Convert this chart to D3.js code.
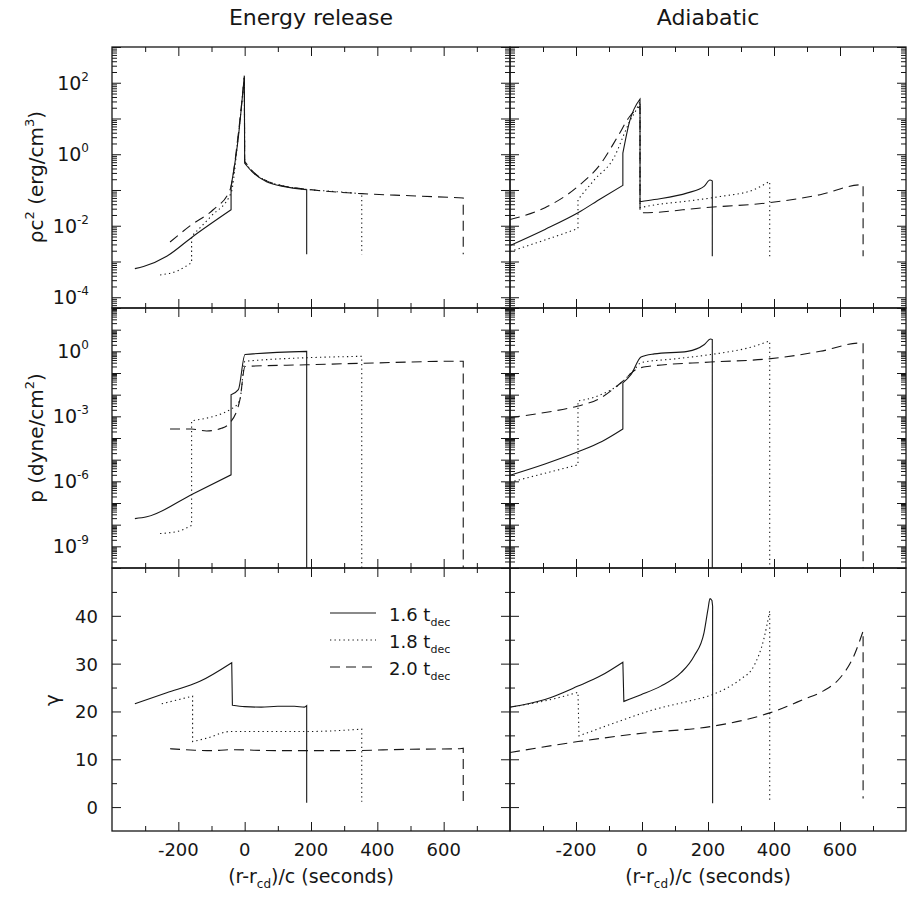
<!DOCTYPE html>
<html>
<head>
<meta charset="utf-8">
<script src="https://cdn.jsdelivr.net/npm/d3@7"></script>
<style>
  body { margin: 0; background: #fff; }
  svg { font-family: "DejaVu Sans", sans-serif; }
</style>
</head>
<body>
<div id="chart"></div>
<script>
// x values in seconds, y values
// rho c^2 (erg/cm^3), energy release
const rhoER16 = [[-331,6.3e-4],[-305,7.2e-4],[-235,1.4e-3],[-155,5.1e-3],[-41,2.8e-2],[-41,0.126],[-20,2.5],[-1,158],[0,0.56],[26,0.30],[66,0.17],[116,0.126],[187,0.102],[187,1.6e-3]];
const rhoER18 = [[-255,4.2e-4],[-200,5.6e-4],[-160,9.3e-4],[-160,5.1e-3],[-100,1.9e-2],[-41,8.3e-2],[-20,2.8],[-1,150],[0,0.6],[26,0.31],[66,0.18],[116,0.13],[187,0.104],[260,0.092],[353,0.079],[353,1.6e-3]];
const rhoER20 = [[-225,3.5e-3],[-160,1.07e-2],[-95,2.8e-2],[-44,0.102],[-20,3.2],[-1,140],[0,0.63],[26,0.32],[66,0.18],[116,0.13],[187,0.105],[353,0.079],[500,0.069],[659,0.06],[659,1.6e-3]];
// rho c^2, adiabatic
const rhoAD16 = [[-400,2.8e-3],[-294,7.9e-3],[-194,2.3e-2],[-124,5.8e-2],[-58,0.135],[-58,1.07],[-38,8.1],[-6,35],[-6,4.7e-2],[37,5.4e-2],[138,8.3e-2],[188,0.126],[206,0.19],[213,0.18],[213,1.4e-3]];
const rhoAD18 = [[-400,1.9e-3],[-294,4.0e-3],[-194,8.3e-3],[-194,5.4e-2],[-144,0.195],[-83,0.87],[-53,3.9],[-38,8.1],[-20,15.8],[-6,30],[-6,3.2e-2],[37,3.8e-2],[138,4.9e-2],[238,6.6e-2],[339,0.102],[384,0.17],[387,0.17],[387,1.4e-3]];
const rhoAD20 = [[-400,1.5e-2],[-294,3.2e-2],[-194,0.126],[-124,0.56],[-73,3.2],[-38,11.2],[-6,22],[-6,2.3e-2],[2,2.3e-2],[188,3.2e-2],[384,4.4e-2],[540,7.4e-2],[665,0.14],[670,0.14],[670,1.4e-3]];
// p (dyne/cm^2), energy release
const pER16 = [[-331,1.9e-8],[-295,2.3e-8],[-155,2.7e-7],[-41,2.0e-6],[-41,1.0e-2],[-19,1.7e-2],[1,0.71],[187,1.0],[187,1e-12]];
const pER18 = [[-255,3.9e-9],[-200,5.0e-9],[-160,9.3e-9],[-160,6.2e-4],[-34,2.5e-3],[-14,6.3e-3],[1,0.35],[353,0.59],[353,1e-12]];
const pER20 = [[-225,2.6e-4],[-160,2.6e-4],[-115,2.1e-4],[-70,2.8e-4],[-44,5.1e-4],[-14,6.3e-3],[1,0.2],[187,0.24],[353,0.28],[649,0.35],[659,0.35],[659,1e-12]];
// p, adiabatic
const pAD16 = [[-400,1.9e-6],[-294,6.3e-6],[-194,2.3e-5],[-120,7.1e-5],[-58,2.6e-4],[-58,3.5e-2],[-33,8.5e-2],[-3,0.55],[37,0.76],[138,1.0],[188,2.0],[208,3.7],[213,3.5],[213,1e-12]];
const pAD18 = [[-400,9.1e-7],[-194,5.8e-6],[-194,5.1e-3],[-134,8.7e-3],[-63,3.5e-2],[-23,0.145],[-3,0.3],[100,0.45],[208,0.71],[339,1.7],[384,2.9],[387,2.9],[387,1e-12]];
const pAD20 = [[-400,8.7e-4],[-294,1.5e-3],[-194,3.0e-3],[-134,6.0e-3],[-58,4.2e-2],[-18,0.145],[17,0.2],[208,0.32],[384,0.45],[540,1.0],[660,2.4],[670,2.4],[670,1e-12]];
// gamma, energy release
const gER16 = [[-331,21.6],[-235,23.9],[-135,26.3],[-39,30.2],[-37,21.3],[0,21],[50,20.9],[100,21.1],[150,21.1],[180,20.9],[187,21.2],[187,0.9]];
const gER18 = [[-250,21.6],[-157,23.2],[-157,13.7],[-115,14.4],[-44,15.8],[100,15.8],[187,15.8],[353,16.3],[353,1.1]];
const gER20 = [[-225,12.2],[-150,11.9],[-100,11.8],[-44,12],[100,11.8],[300,11.8],[500,12.1],[649,12.2],[659,12.3],[659,1.1]];
// gamma, adiabatic
const gAD16 = [[-400,20.9],[-294,22.5],[-194,25.3],[-124,27.5],[-58,30.3],[-55,22.1],[-3,23.5],[57,25.3],[118,28.1],[158,31.6],[188,36.5],[200,41.4],[206,43.6],[212,43.2],[214,42],[214,0.8]];
const gAD18 = [[-400,20.9],[-294,22.2],[-194,24],[-191,14.9],[-83,17.6],[37,20.4],[138,22.1],[213,23.5],[260,25],[300,26.8],[339,29.5],[369,35.1],[387,41],[387,1.1]];
const gAD20 = [[-400,11.4],[-194,13.7],[7,15.5],[213,16.9],[387,19.7],[489,22.5],[550,24.3],[600,27],[640,31.3],[670,36.8],[670,1.8]];

const columnTitles = ["Energy release", "Adiabatic"];
const legendLabels = ["1.6", "1.8", "2.0"];
const xTickLabels = [-200, 0, 200, 400, 600];
const rhoLabelExps = [-4, -2, 0, 2];
const pLabelExps = [-9, -6, -3, 0];
const gammaTickLabels = [0, 10, 20, 30, 40];

const width = 908;
const height = 897;
const cols = [{ x0: 112, x1: 510 }, { x0: 510, x1: 906 }];
const rows = [{ y0: 47, y1: 308 }, { y0: 308, y1: 568 }, { y0: 568, y1: 831 }];
const styles = ["none", "1.3,3.2", "10,6"];
const ink = "#161616";

const svg = d3.select("#chart").append("svg")
  .attr("width", width)
  .attr("height", height);

function logMinor(lo, hi) {
  const out = [];
  for (let e = Math.floor(Math.log10(lo)); e <= Math.ceil(Math.log10(hi)); e++) {
    for (let k = 2; k <= 9; k++) {
      const v = k * Math.pow(10, e);
      if (v > lo && v < hi) out.push(v);
    }
  }
  return out;
}
function logMajor(lo, hi) {
  const out = [];
  for (let e = Math.ceil(Math.log10(lo)); e <= Math.floor(Math.log10(hi)); e++) out.push(Math.pow(10, e));
  return out;
}

// smooth between jumps, straight across the jumps (steps of <= 3 s)
function jumpPath(pts, line) {
  const segs = [[pts[0]]];
  for (let i = 1; i < pts.length; i++) {
    if (pts[i][0] - pts[i - 1][0] <= 3) segs.push([pts[i]]);
    else segs[segs.length - 1].push(pts[i]);
  }
  const fx = line.x(), fy = line.y();
  return segs.map((s, i) => {
    const d = s.length > 1
      ? line(s).replace(/Z/g, "")
      : `M${fx(s[0])},${fy(s[0])}`;
    return i === 0 ? d : "L" + d.slice(1);
  }).join("");
}

const panels = [
  { row: 0, type: "log", domain: [5e-5, 1e3], data: [[rhoER16, rhoER18, rhoER20], [rhoAD16, rhoAD18, rhoAD20]] },
  { row: 1, type: "log", domain: [1e-10, 1e2], data: [[pER16, pER18, pER20], [pAD16, pAD18, pAD20]] },
  { row: 2, type: "lin", domain: [-5, 50], data: [[gER16, gER18, gER20], [gAD16, gAD18, gAD20]] }
];

panels.forEach((p, pi) => {
  const r = rows[p.row];
  cols.forEach((c, ci) => {
    const x = d3.scaleLinear().domain([-400, 800]).range([c.x0, c.x1]);
    const y = (p.type === "log" ? d3.scaleLog() : d3.scaleLinear()).domain(p.domain).range([r.y1, r.y0]);
    const g = svg.append("g");

    let yMajor, yMinor;
    if (p.type === "log") {
      yMajor = logMajor(p.domain[0], p.domain[1]);
      yMinor = logMinor(p.domain[0], p.domain[1]);
    } else {
      yMajor = d3.range(0, 50, 10);
      yMinor = d3.range(5, 50, 10);
    }
    const xMajor = [-200, 0, 200, 400, 600];
    const xMinor = [-300, -100, 100, 300, 500, 700];

    const tickSets = [
      [d3.axisBottom(x), `translate(0,${r.y0})`, xMajor, xMinor],
      [d3.axisTop(x), `translate(0,${r.y1})`, xMajor, xMinor],
      [d3.axisRight(y), `translate(${c.x0},0)`, yMajor, yMinor],
      [d3.axisLeft(y), `translate(${c.x1},0)`, yMajor, yMinor]
    ];
    tickSets.forEach(([axis, tr, major, minor]) => {
      [[major, 9], [minor, 5]].forEach(([vals, len]) => {
        const a = g.append("g")
          .attr("transform", tr)
          .call(axis.tickValues(vals).tickSize(len).tickFormat(""));
        a.select(".domain").remove();
        a.selectAll("line").attr("stroke", ink).attr("stroke-width", 1);
      });
    });

    g.append("rect")
      .attr("x", c.x0).attr("y", r.y0)
      .attr("width", c.x1 - c.x0).attr("height", r.y1 - r.y0)
      .attr("fill", "none").attr("stroke", ink).attr("stroke-width", 1.3);

    const clipId = `clip-${pi}-${ci}`;
    svg.append("clipPath").attr("id", clipId)
      .append("rect")
      .attr("x", c.x0).attr("y", r.y0)
      .attr("width", c.x1 - c.x0).attr("height", r.y1 - r.y0);

    const line = d3.line()
      .x(d => x(d[0]))
      .y(d => y(d[1]))
      .curve(d3.curveMonotoneX);
    g.append("g").attr("clip-path", `url(#${clipId})`)
      .selectAll("path")
      .data(p.data[ci])
      .enter()
      .append("path")
      .attr("d", d => jumpPath(d, line))
      .attr("fill", "none")
      .attr("stroke", ink)
      .attr("stroke-width", 1.1)
      .attr("stroke-dasharray", (d, i) => styles[i]);

    // x tick labels on the bottom row
    if (p.row === 2) {
      g.selectAll(".xl")
        .data(xTickLabels)
        .enter()
        .append("text")
        .attr("x", d => x(d))
        .attr("y", 856)
        .attr("text-anchor", "middle")
        .attr("font-size", 18)
        .attr("fill", ink)
        .text(d => d);

      const xl = g.append("text")
        .attr("x", (c.x0 + c.x1) / 2)
        .attr("y", 883)
        .attr("text-anchor", "middle")
        .attr("font-size", 19)
        .attr("fill", ink);
      xl.append("tspan").text("(r-r");
      xl.append("tspan").attr("font-size", 12).attr("dy", 5).text("cd");
      xl.append("tspan").attr("dy", -5).text(")/c (seconds)");
    }

    // y tick labels only on the left column
    if (ci === 0) {
      if (p.type === "log") {
        const exps = p.row === 0 ? rhoLabelExps : pLabelExps;
        exps.forEach(e => {
          const t = g.append("text")
            .attr("x", 89)
            .attr("y", y(Math.pow(10, e)) + 7)
            .attr("text-anchor", "end")
            .attr("font-size", 19)
            .attr("fill", ink);
          t.append("tspan").text("10");
          t.append("tspan").attr("font-size", 12).attr("dy", -9).text(e);
        });
      } else {
        g.selectAll(".yl")
          .data(gammaTickLabels)
          .enter()
          .append("text")
          .attr("x", 98)
          .attr("y", d => y(d) + 7)
          .attr("text-anchor", "end")
          .attr("font-size", 18)
          .attr("fill", ink)
          .text(d => d);
      }
    }
  });
});

// column titles
columnTitles.forEach((t, i) => {
  svg.append("text")
    .attr("x", (cols[i].x0 + cols[i].x1) / 2)
    .attr("y", 25)
    .attr("text-anchor", "middle")
    .attr("font-size", 22)
    .attr("fill", ink)
    .text(t);
});

// y axis titles
const yt1 = svg.append("text")
  .attr("transform", "translate(43,177) rotate(-90)")
  .attr("text-anchor", "middle")
  .attr("font-size", 20)
  .attr("fill", ink);
yt1.append("tspan").text("ρc");
yt1.append("tspan").attr("font-size", 13).attr("dy", -9).text("2");
yt1.append("tspan").attr("dy", 9).text(" (erg/cm");
yt1.append("tspan").attr("font-size", 13).attr("dy", -9).text("3");
yt1.append("tspan").attr("dy", 9).text(")");

const yt2 = svg.append("text")
  .attr("transform", "translate(43,438) rotate(-90)")
  .attr("text-anchor", "middle")
  .attr("font-size", 20)
  .attr("fill", ink);
yt2.append("tspan").text("p (dyne/cm");
yt2.append("tspan").attr("font-size", 13).attr("dy", -9).text("2");
yt2.append("tspan").attr("dy", 9).text(")");

svg.append("text")
  .attr("transform", "translate(59,700) rotate(-90)")
  .attr("text-anchor", "middle")
  .attr("font-size", 20)
  .attr("fill", ink)
  .text("γ");

// legend
const legendY = [613, 640, 667];
legendLabels.forEach((lab, i) => {
  svg.append("line")
    .attr("x1", 330).attr("x2", 376)
    .attr("y1", legendY[i]).attr("y2", legendY[i])
    .attr("stroke", ink)
    .attr("stroke-width", 1.1)
    .attr("stroke-dasharray", styles[i]);
  const t = svg.append("text")
    .attr("x", 389)
    .attr("y", legendY[i] + 8)
    .attr("font-size", 18)
    .attr("fill", ink);
  t.append("tspan").text(lab + " t");
  t.append("tspan").attr("font-size", 11).attr("dy", 5).text("dec");
});
</script>
</body>
</html>
